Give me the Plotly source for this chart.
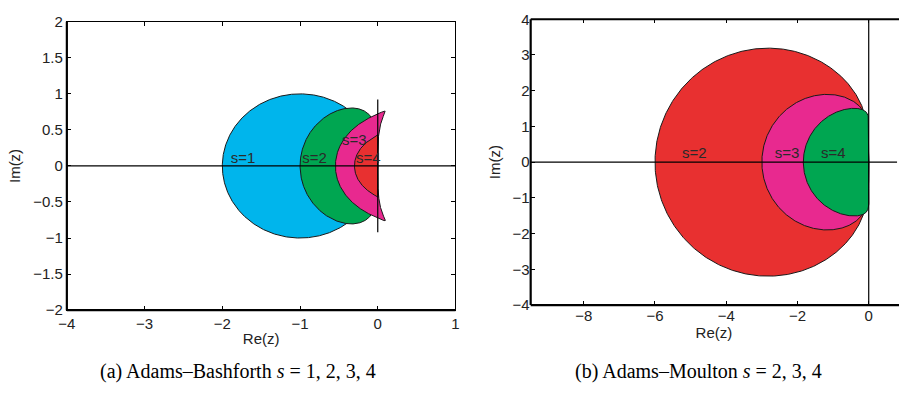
import numpy as np
import plotly.graph_objects as go

# ---- data: method coefficients (sigma polynomial, highest power first) ----
ab_steps = [1, 2, 3, 4]
ab_sigma = [[1.0], [3.0, -1.0], [23.0, -16.0, 5.0], [55.0, -59.0, 37.0, -9.0]]
ab_denom = [1.0, 2.0, 12.0, 24.0]
ab_colors = ["#00B5EC", "#00A651", "#E8298F", "#E83030"]
ab_labels = ["s=1", "s=2", "s=3", "s=4"]
ab_label_x = [-1.89, -0.97, -0.46, -0.28]
ab_label_y = [0.09, 0.09, 0.34, 0.09]

am_steps = [2, 3, 4]
am_sigma = [[5.0, 8.0, -1.0], [9.0, 19.0, -5.0, 1.0], [251.0, 646.0, -264.0, 106.0, -19.0]]
am_denom = [12.0, 24.0, 720.0]
am_colors = ["#E83030", "#E8298F", "#00A651"]
am_labels = ["s=2", "s=3", "s=4"]
am_label_x = [-5.24, -2.64, -1.34]
am_label_y = [0.23, 0.23, 0.23]

left_xticks = [-4, -3, -2, -1, 0, 1]
left_yticks = [-2, -1.5, -1, -0.5, 0, 0.5, 1, 1.5, 2]
right_xticks = [-8, -6, -4, -2, 0]
right_yticks = [-4, -3, -2, -1, 0, 1, 2, 3, 4]

theta = np.linspace(0, 2 * np.pi, 1601)
w = np.exp(1j * theta)


def locus(steps, sigma, denom):
    """Boundary locus z = rho(w)/sigma(w) on the unit circle."""
    rho = w ** steps - w ** (steps - 1)
    sig = np.polyval(sigma, w) / denom
    return rho / sig


def cross(p, q):
    return (np.conj(p) * q).imag


def first_intersection(P):
    A, B = P[:-1], P[1:]
    n = len(A)
    for i in range(n):
        js = np.arange(i + 2, n)
        if i == 0:
            js = js[js != n - 1]
        if len(js) == 0:
            continue
        a = A[i]
        r = B[i] - a
        c = A[js]
        s = B[js] - c
        den = cross(r, s)
        ok = np.abs(den) > 1e-15
        with np.errstate(divide="ignore", invalid="ignore"):
            t = cross(c - a, s) / den
            u = cross(c - a, r) / den
        m = ok & (t >= 0) & (t <= 1) & (u >= 0) & (u <= 1)
        if m.any():
            k = np.argmax(m)
            return i, js[k], a + t[k] * r
    return None


def stable_boundary(P):
    """Remove the unstable loops of the locus (cut at self-intersections)."""
    P = np.asarray(P)
    for _ in range(20):
        hit = first_intersection(P)
        if hit is None:
            break
        i, j, X = hit
        n = len(P) - 1
        if (j - i) < n / 2:
            P = np.concatenate([P[: i + 1], [X], P[j + 1:]])
        else:
            P = np.concatenate([[X], P[i + 1: j + 1], [X]])
    return P


fig = go.Figure()

for s, sg, d, c in zip(ab_steps, ab_sigma, ab_denom, ab_colors):
    z = stable_boundary(locus(s, sg, d))
    fig.add_trace(go.Scatter(x=z.real, y=z.imag, mode="lines", fill="toself",
                             fillcolor=c, line=dict(color="#1a1a1a", width=1),
                             xaxis="x", yaxis="y", hoverinfo="skip", showlegend=False))

for s, sg, d, c in zip(am_steps, am_sigma, am_denom, am_colors):
    z = stable_boundary(locus(s, sg, d))
    fig.add_trace(go.Scatter(x=z.real, y=z.imag, mode="lines", fill="toself",
                             fillcolor=c, line=dict(color="#1a1a1a", width=1),
                             xaxis="x2", yaxis="y2", hoverinfo="skip", showlegend=False))

# coordinate axes lines
fig.add_trace(go.Scatter(x=[-4, 1], y=[0, 0], mode="lines", line=dict(color="black", width=1.2),
                         xaxis="x", yaxis="y", hoverinfo="skip", showlegend=False))
fig.add_trace(go.Scatter(x=[0, 0], y=[-0.92, 0.92], mode="lines", line=dict(color="black", width=1.2),
                         xaxis="x", yaxis="y", hoverinfo="skip", showlegend=False))
fig.add_trace(go.Scatter(x=[-9.49, 0.8], y=[0, 0], mode="lines", line=dict(color="black", width=1.2),
                         xaxis="x2", yaxis="y2", hoverinfo="skip", showlegend=False))
fig.add_trace(go.Scatter(x=[0, 0], y=[-4, 4], mode="lines", line=dict(color="black", width=1.2),
                         xaxis="x2", yaxis="y2", hoverinfo="skip", showlegend=False))

# region labels
lblfont = dict(family="Liberation Sans, Arial", size=15, color="#2a2a2a")
fig.add_trace(go.Scatter(x=ab_label_x, y=ab_label_y, mode="text", text=ab_labels,
                         textposition="middle right", textfont=lblfont,
                         xaxis="x", yaxis="y", hoverinfo="skip", showlegend=False))
fig.add_trace(go.Scatter(x=am_label_x, y=am_label_y, mode="text", text=am_labels,
                         textposition="middle right", textfont=lblfont,
                         xaxis="x2", yaxis="y2", hoverinfo="skip", showlegend=False))

W, H = 903, 415
L_dom_x = [58.7 / W, 453 / W]
L_dom_y = [1 - 314 / H, 1 - 13.3 / H]
R_dom_x = [529.3 / W, 0.998]
R_dom_y = [1 - 308.7 / H, 1 - 10.7 / H]

tickfont = dict(family="Liberation Sans, Arial", size=15, color="#222")
titlefont = dict(family="Liberation Sans, Arial", size=15, color="#222")
axcommon = dict(showgrid=False, zeroline=False, showline=True, linecolor="black", linewidth=1,
                ticks="inside", ticklen=4, tickcolor="black", tickwidth=1, tickfont=tickfont,
                fixedrange=True)

frame = dict(type="line", xref="paper", yref="paper", line=dict(color="black", width=2.2), layer="above")
shapes = [
    dict(frame, x0=L_dom_x[0], x1=L_dom_x[0], y0=L_dom_y[0], y1=L_dom_y[1]),
    dict(frame, x0=L_dom_x[0], x1=L_dom_x[1], y0=L_dom_y[0], y1=L_dom_y[0]),
    dict(frame, x0=R_dom_x[0], x1=R_dom_x[0], y0=R_dom_y[0], y1=R_dom_y[1]),
    dict(frame, x0=R_dom_x[0], x1=1.0, y0=R_dom_y[0], y1=R_dom_y[0]),
    dict(frame, x0=R_dom_x[0], x1=1.0, y0=R_dom_y[1], y1=R_dom_y[1]),
]

fig.update_layout(
    width=W, height=H, margin=dict(l=0, r=0, t=0, b=0),
    paper_bgcolor="white", plot_bgcolor="white",
    shapes=shapes,
    xaxis=dict(domain=L_dom_x, range=[-4, 1], tickvals=left_xticks,
               mirror="ticks", anchor="y",
               title=dict(text="Re(z)", font=titlefont, standoff=2),
               **axcommon),
    yaxis=dict(domain=L_dom_y, range=[-2, 2], tickvals=left_yticks,
               mirror="ticks", anchor="x",
               title=dict(text="Im(z)", font=titlefont, standoff=8),
               **axcommon),
    xaxis2=dict(domain=R_dom_x, range=[-9.49, 0.8], tickvals=right_xticks,
                mirror="ticks", anchor="y2",
                title=dict(text="Re(z)", font=titlefont, standoff=2),
                **dict(axcommon, showline=False)),
    yaxis2=dict(domain=R_dom_y, range=[-4, 4], tickvals=right_yticks,
                mirror=False, anchor="x2",
                title=dict(text="Im(z)", font=titlefont, standoff=8),
                **dict(axcommon, showline=False)),
    annotations=[
        dict(text="(a) Adams–Bashforth <i>s</i> = 1, 2, 3, 4", x=232 / W, y=1 - 378 / H,
             xref="paper", yref="paper", showarrow=False, xanchor="center", yanchor="middle",
             font=dict(family="Liberation Serif, Times New Roman", size=20, color="black")),
        dict(text="(b) Adams–Moulton <i>s</i> = 2, 3, 4", x=700 / W, y=1 - 378 / H,
             xref="paper", yref="paper", showarrow=False, xanchor="center", yanchor="middle",
             font=dict(family="Liberation Serif, Times New Roman", size=20, color="black")),
    ],
)

fig.write_html("out.html")
